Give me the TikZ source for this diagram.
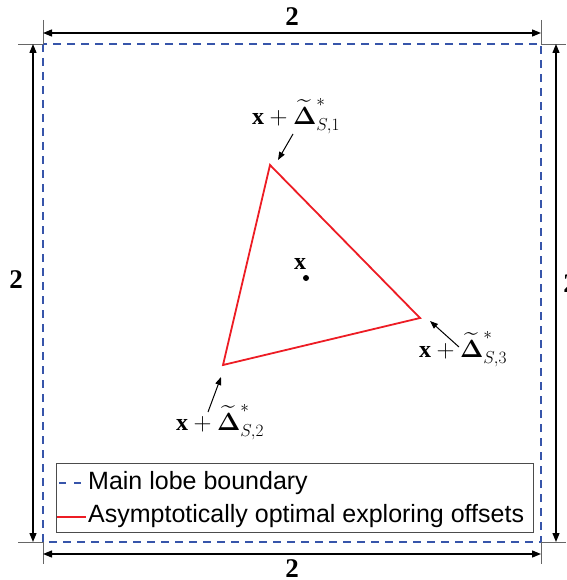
\documentclass[tikz,border=0pt]{standalone}
\usepackage{amsmath,bm}
\usepackage{fontspec}
\setmainfont{Liberation Serif}
\newfontfamily\legendfont{Liberation Sans}
\usetikzlibrary{arrows.meta, calc, positioning}

\definecolor{lobeblue}{RGB}{55,85,170}
\definecolor{offsetred}{RGB}{237,28,36}

\tikzset{
    lobe/.style={draw=lobeblue, line width=2pt, dash pattern=on 8pt off 6pt},
    offset/.style={draw=offsetred, line width=1.8pt},
    dimline/.style={line width=1.3pt, {Triangle[length=9pt,width=7pt]}-{Triangle[length=9pt,width=7pt]}},
    extline/.style={draw=black!60, line width=0.9pt},
    pointer/.style={line width=1pt, -{Triangle[length=8pt,width=6pt]}},
    dimlabel/.style={font=\fontsize{27}{30}\selectfont\bfseries},
    ptlabel/.style={font=\fontsize{24}{28}\selectfont},
}

\begin{document}
\begin{tikzpicture}[x=1pt, y=-1pt]
    \useasboundingbox (0,0) rectangle (566,580);

    % Main lobe boundary
    \draw[lobe] (43,44) rectangle (541,542);

    % Extension lines
    \draw[extline] (43,20) -- (43,44) (18,44) -- (43,44);
    \draw[extline] (541,20) -- (541,44) (541,44) -- (566,44);
    \draw[extline] (43,542) -- (43,564) (18,542) -- (43,542);
    \draw[extline] (541,542) -- (541,564) (541,542) -- (566,542);

    % Dimensions
    \coordinate (tl) at (43,33);  \coordinate (tr) at (541,33);
    \coordinate (bl) at (43,554); \coordinate (br) at (541,554);
    \coordinate (lt) at (33,44);  \coordinate (lb) at (33,542);
    \coordinate (rt) at (556,44); \coordinate (rb) at (556,542);
    \draw[dimline] (tl) -- (tr);
    \draw[dimline] (bl) -- (br);
    \draw[dimline] (lt) -- (lb);
    \draw[dimline] (rt) -- (rb);
    \node[dimlabel] (dtop) at (292,17) {2};
    \node[dimlabel] (dbot) at (292,569) {2};
    \node[dimlabel] (dleft) at (16,280) {2};
    \node[dimlabel] (dright) at (570,284) {2};

    % Exploring offsets
    \coordinate (v1) at (270,165);
    \coordinate (v2) at (223,365);
    \coordinate (v3) at (420,318);
    \draw[offset, line join=miter] (v1) -- (v3) -- (v2) -- cycle;

    % Current point
    \fill (306,278) circle (3pt);
    \node[ptlabel] (xc) at (300,264) {$\mathbf{x}$};

    % Offset labels
    \node[ptlabel] (lab1) at (296,116) {$\mathbf{x}+\widetilde{\bm{\Delta}}^{*}_{S,1}$};
    \node[ptlabel] (lab2) at (220,422) {$\mathbf{x}+\widetilde{\bm{\Delta}}^{*}_{S,2}$};
    \node[ptlabel] (lab3) at (463,349) {$\mathbf{x}+\widetilde{\bm{\Delta}}^{*}_{S,3}$};
    \coordinate (a1) at (293,134); \coordinate (h1) at (278,160);
    \coordinate (a2) at (208,412); \coordinate (h2) at (221,377);
    \coordinate (a3) at (459,347); \coordinate (h3) at (430,321);
    \draw[pointer] (a1) -- (h1);
    \draw[pointer] (a2) -- (h2);
    \draw[pointer] (a3) -- (h3);

    % Legend
    \draw[draw=black!70, line width=0.9pt, fill=white] (56,463) rectangle (533,532);
    \coordinate (k1) at (57,483); \coordinate (k1e) at (86,483);
    \coordinate (k2) at (57,517); \coordinate (k2e) at (86,517);
    \draw[lobe, dash pattern=on 7pt off 8pt, dash phase=-2pt] (k1) -- (k1e);
    \draw[offset] (k2) -- (k2e);
    \node[anchor=west, inner sep=1pt, font=\legendfont\fontsize{25}{28}\selectfont] (t1) at (87,483) {Main lobe boundary};
    \node[anchor=west, inner sep=1pt, font=\legendfont\fontsize{25}{28}\selectfont] (t2) at (87,516) {Asymptotically optimal exploring offsets};

\end{tikzpicture}
\end{document}
